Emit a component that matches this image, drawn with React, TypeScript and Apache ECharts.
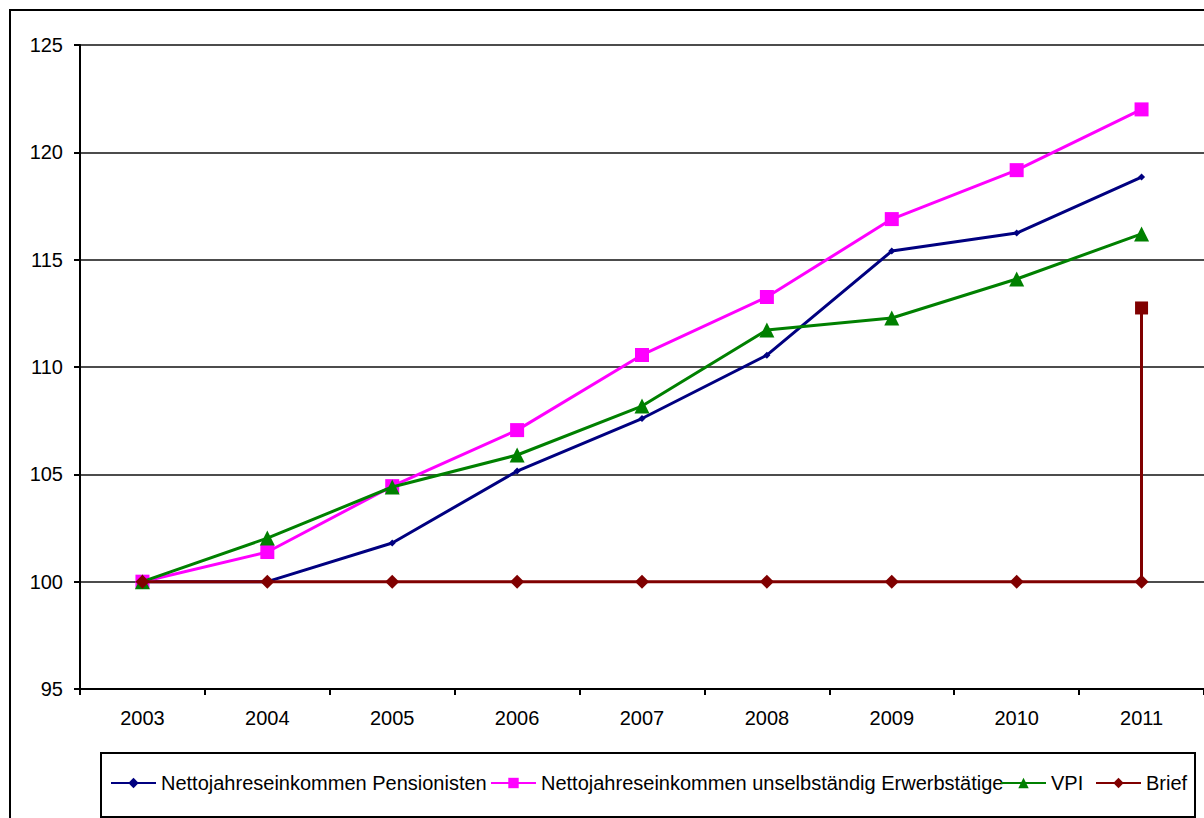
import React, { useEffect, useRef } from "react";
import * as echarts from "echarts";

const years = ["2003", "2004", "2005", "2006", "2007", "2008", "2009", "2010", "2011"];
const pensionisten = [100, 100, 101.8, 105.15, 107.6, 110.55, 115.4, 116.24, 118.85];
const erwerbstaetige = [100, 101.38, 104.45, 107.06, 110.56, 113.26, 116.89, 119.17, 122.0];
const vpi = [100, 102.03, 104.41, 105.9, 108.18, 111.72, 112.28, 114.1, 116.2];
const brief = [100, 100, 100, 100, 100, 100, 100, 100, 100];
const briefSpike = { year: "2011", from: 100, to: 112.75 };

const names = [
  "Nettojahreseinkommen Pensionisten",
  "Nettojahreseinkommen unselbständig Erwerbstätige",
  "VPI",
  "Brief",
];

const FONT = "'Liberation Sans', Arial, sans-serif";

export default function App() {
  const ref = useRef<HTMLDivElement>(null);
  useEffect(() => {
    if (!ref.current) return;
    const chart = echarts.init(ref.current, null, { renderer: "svg" });
    const legendLefts = [110, 490, 1000, 1095];
    const legendBase = {
      orient: "horizontal",
      top: 773,
      padding: 0,
      itemWidth: 45,
      itemHeight: 13,
      itemGap: 0,
      textStyle: { fontSize: 20, color: "#000", fontFamily: FONT },
    };
    chart.setOption({
      animation: false,
      backgroundColor: "#fff",
      textStyle: { fontFamily: FONT },
      grid: { left: 80, right: 0, top: 45, bottom: 129, containLabel: false },
      legend: names.map((n, i) => ({ ...legendBase, left: legendLefts[i], data: [n] })),
      graphic: [
        {
          type: "rect",
          shape: { x: 10, y: 10, width: 1400, height: 1000 },
          style: { fill: "none", stroke: "#000", lineWidth: 2 },
          silent: true,
        },
        {
          type: "rect",
          shape: { x: 101, y: 753, width: 1094, height: 64 },
          style: { fill: "none", stroke: "#000", lineWidth: 2 },
          silent: true,
        },
      ],
      xAxis: {
        type: "category",
        data: years,
        boundaryGap: true,
        axisLine: { lineStyle: { color: "#000", width: 2 } },
        axisTick: { show: true, length: 6, inside: false, lineStyle: { color: "#000", width: 2 } },
        axisLabel: { fontSize: 20, color: "#000", margin: 19, fontFamily: FONT },
        splitLine: { show: false },
      },
      yAxis: {
        type: "value",
        min: 95,
        max: 125,
        interval: 5,
        axisLine: { show: true, lineStyle: { color: "#000", width: 2 } },
        axisTick: { show: true, length: 6, lineStyle: { color: "#000", width: 2 } },
        axisLabel: { fontSize: 20, color: "#000", margin: 17, fontFamily: FONT },
        splitLine: { show: true, lineStyle: { color: "#111", width: 1.5 } },
      },
      series: [
        {
          name: names[0],
          type: "line",
          data: pensionisten,
          symbol: "diamond",
          symbolSize: 7,
          lineStyle: { color: "#000080", width: 3 },
          itemStyle: { color: "#000080" },
          z: 2,
        },
        {
          name: names[1],
          type: "line",
          data: erwerbstaetige,
          symbol: "rect",
          symbolSize: 14,
          lineStyle: { color: "#FF00FF", width: 3 },
          itemStyle: { color: "#FF00FF" },
          z: 3,
        },
        {
          name: names[2],
          type: "line",
          data: vpi,
          symbol: "triangle",
          symbolSize: 15,
          lineStyle: { color: "#008000", width: 3 },
          itemStyle: { color: "#008000" },
          z: 4,
        },
        {
          name: names[3],
          type: "line",
          data: brief,
          symbol: "diamond",
          symbolSize: 14,
          lineStyle: { color: "#800000", width: 3 },
          itemStyle: { color: "#800000" },
          z: 5,
          markLine: {
            silent: true,
            symbol: ["none", "rect"],
            symbolSize: 13,
            label: { show: false },
            lineStyle: { color: "#800000", width: 3, type: "solid" },
            data: [
              [
                { coord: [briefSpike.year, briefSpike.from] },
                { coord: [briefSpike.year, briefSpike.to] },
              ],
            ],
          },
        },
      ],
    });
    return () => chart.dispose();
  }, []);
  return (
    <div
      ref={ref}
      style={{ position: "absolute", left: 0, top: 0, width: 1204, height: 818 }}
    />
  );
}
